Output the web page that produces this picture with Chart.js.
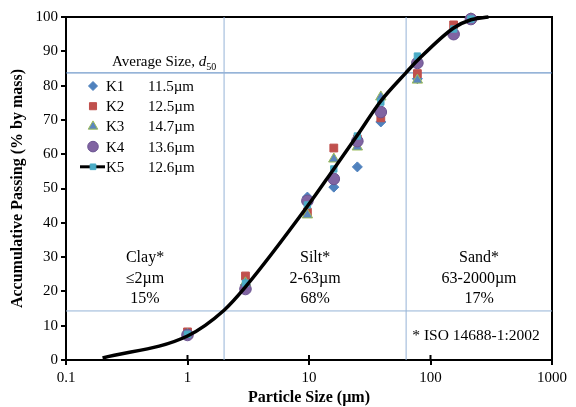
<!DOCTYPE html>
<html>
<head>
<meta charset="utf-8">
<script src="https://cdn.jsdelivr.net/npm/chart.js@4"></script>
<style>
  body { margin: 0; background: #fff; }
  #wrap { width: 576px; height: 407px; position: relative; }
</style>
</head>
<body>
<div id="wrap"><canvas id="psd"></canvas></div>
<script>
// Sieve sizes (µm) and accumulative passing (%) per sample
const sizes = [1, 3, 9.7, 16, 25, 39, 78, 155, 215];
const k1 = [7.5, 22, 47.5, 50.4, 56.3, 69.4, 82, 95, 99.5];
const k2 = [8.2, 24.5, 43.1, 61.8, 64.4, 70.6, 83.5, 97.7, 99.5];
const k3 = [7.5, 22.5, 42.3, 58.6, 62.1, 76.7, 81.6, 95.5, 99.5];
const k4 = [7.3, 20.7, 46.4, 52.8, 63.8, 72.3, 86.6, 95, 99.4];
const k5 = [7.5, 22.4, 45.2, 55.7, 65.3, 75.2, 88.6, 96.5, 99.4];

// smooth K5 curve
const curveSizes = [0.2, 1, 2, 3, 9.7, 16, 25, 39, 63, 78, 155, 215, 300];
const curveValues = [0.6, 7, 14.5, 21.3, 44.8, 55.7, 65.5, 75.5, 83.8, 87.3, 96.8, 99.2, 100];

const seriesNames = ['K1', 'K2', 'K3', 'K4', 'K5'];
const d50Labels = ['11.5µm', '12.5µm', '14.7µm', '13.6µm', '12.6µm'];

const xTicks = [0.1, 1, 10, 100, 1000];
const yTicks = [0, 10, 20, 30, 40, 50, 60, 70, 80, 90, 100];

// class boundaries (ISO 14688-1)
const clayLimit = 2;
const siltLimit = 63;
const clayPassing = 14.3;
const siltPassing = 83.7;

const regionLabels = [
  { x: Math.sqrt(0.1 * 2), lines: ['Clay*', '≤2µm', '15%'] },
  { x: Math.sqrt(2 * 63), lines: ['Silt*', '2-63µm', '68%'] },
  { x: Math.sqrt(63 * 1000), lines: ['Sand*', '63-2000µm', '17%'] }
];
const isoNote = '* ISO 14688-1:2002';

const SERIF = "'Liberation Serif', 'Times New Roman', serif";

const styles = [
  { pointStyle: 'rectRot', radius: 5, bg: '#4F81BD', border: '#4F81BD' },
  { pointStyle: 'rect', radius: 5.5, bg: '#C0504D', border: '#C0504D' },
  { pointStyle: 'triangle', radius: 6, bg: '#5B86BE', border: '#9BBB59' },
  { pointStyle: 'circle', radius: 5.8, bg: '#8064A2', border: '#6B5491' },
  { pointStyle: 'rect', radius: 4.5, bg: '#4BACC6', border: '#4BACC6' }
];

const toXY = (xs, ys) => xs.map((x, i) => ({ x, y: ys[i] }));

function markerSet(idx, values) {
  const s = styles[idx];
  return {
    type: 'scatter',
    label: seriesNames[idx],
    data: toXY(sizes, values),
    pointStyle: s.pointStyle,
    pointRadius: s.radius,
    pointBackgroundColor: s.bg,
    pointBorderColor: s.border,
    pointBorderWidth: 1,
    showLine: false,
    clip: false,
    order: 6 - idx
  };
}

function refLine(points, color) {
  return {
    type: 'line',
    data: points,
    borderColor: color,
    borderWidth: 1,
    pointRadius: 0,
    order: 20
  };
}

const datasets = [
  refLine([{ x: clayLimit, y: 0 }, { x: clayLimit, y: 100 }], '#95B3D7'),
  refLine([{ x: siltLimit, y: 0 }, { x: siltLimit, y: 100 }], '#95B3D7'),
  refLine([{ x: 0.1, y: clayPassing }, { x: 1000, y: clayPassing }], '#95B3D7'),
  refLine([{ x: 0.1, y: siltPassing }, { x: 1000, y: siltPassing }], '#4F81BD'),
  markerSet(0, k1),
  markerSet(1, k2),
  markerSet(2, k3),
  markerSet(3, k4),
  markerSet(4, k5),
  {
    type: 'line',
    label: 'K5 curve',
    data: toXY(curveSizes, curveValues),
    borderColor: '#000',
    borderWidth: 3.5,
    cubicInterpolationMode: 'monotone',
    pointRadius: 0,
    clip: false,
    order: 0
  }
];

// frame, legend box and class labels
const decorations = {
  id: 'decorations',
  beforeDatasetsDraw(chart) {
    const { ctx, chartArea: a } = chart;
    ctx.save();
    ctx.strokeStyle = '#000';
    ctx.lineWidth = 2;
    ctx.strokeRect(a.left, a.top, a.right - a.left, a.bottom - a.top);
    // x ticks cross the axis line
    chart.scales.x.ticks.forEach(t => {
      const px = chart.scales.x.getPixelForValue(t.value);
      ctx.beginPath();
      ctx.moveTo(px, a.bottom - 5);
      ctx.lineTo(px, a.bottom);
      ctx.stroke();
    });
    ctx.restore();
  },
  afterDatasetsDraw(chart) {
    const { ctx, scales } = chart;
    const xs = scales.x;
    ctx.save();
    ctx.fillStyle = '#000';
    ctx.textBaseline = 'middle';

    // class labels
    ctx.font = '16px ' + SERIF;
    ctx.textAlign = 'center';
    regionLabels.forEach(r => {
      const cx = xs.getPixelForValue(r.x);
      r.lines.forEach((t, i) => ctx.fillText(t, cx, 258 + i * 20.5));
    });
    ctx.font = '15.5px ' + SERIF;
    ctx.fillText(isoNote, xs.getPixelForValue(Math.sqrt(63 * 1000)) - 3, 336);

    // legend title
    ctx.textAlign = 'left';
    let tx = 112;
    const ty = 62;
    ctx.font = '15px ' + SERIF;
    ctx.fillText('Average Size, ', tx, ty);
    tx += ctx.measureText('Average Size, ').width;
    ctx.font = 'italic 15px ' + SERIF;
    ctx.fillText('d', tx, ty);
    tx += ctx.measureText('d').width;
    ctx.font = '10px ' + SERIF;
    ctx.fillText('50', tx, ty + 5);

    // legend rows
    ctx.font = '15px ' + SERIF;
    seriesNames.forEach((name, i) => {
      const ry = 86 + i * 20.2;
      const s = styles[i];
      if (i === 4) {
        ctx.strokeStyle = '#000';
        ctx.lineWidth = 3;
        ctx.beginPath();
        ctx.moveTo(80, ry);
        ctx.lineTo(105, ry);
        ctx.stroke();
      }
      ctx.fillStyle = s.bg;
      ctx.strokeStyle = s.border;
      ctx.lineWidth = 1;
      Chart.helpers.drawPoint(ctx, { pointStyle: s.pointStyle, radius: s.radius - 0.5, borderWidth: 1, rotation: 0 }, 93, ry);
      ctx.fillStyle = '#000';
      ctx.fillText(name, 106, ry + 1);
      ctx.fillText(d50Labels[i], 148, ry + 1);
    });
    ctx.restore();
  }
};

new Chart(document.getElementById('psd'), {
  data: { datasets },
  options: {
    responsive: true,
    maintainAspectRatio: false,
    animation: false,
    layout: { padding: { left: 0, right: 24, top: 17, bottom: 0 } },
    plugins: {
      legend: { display: false },
      tooltip: { enabled: false }
    },
    scales: {
      x: {
        type: 'logarithmic',
        min: 0.1,
        max: 1000,
        afterBuildTicks: s => { s.ticks = xTicks.map(v => ({ value: v })); },
        afterFit: s => { s.height = 47; },
        ticks: {
          color: '#000',
          font: { family: SERIF, size: 15 },
          padding: 4,
          maxRotation: 0,
          callback: v => String(v)
        },
        grid: { drawOnChartArea: false, drawTicks: true, tickLength: 5, color: '#000', lineWidth: 2 },
        border: { color: '#000', width: 2 },
        title: {
          display: true,
          text: 'Particle Size (µm)',
          color: '#000',
          font: { family: SERIF, size: 16, weight: 'bold' },
          padding: { top: 0, bottom: 0 }
        }
      },
      y: {
        min: 0,
        max: 100,
        afterBuildTicks: s => { s.ticks = yTicks.map(v => ({ value: v })); },
        afterFit: s => { s.width = 66; },
        ticks: {
          color: '#000',
          font: { family: SERIF, size: 15 },
          padding: 3
        },
        grid: { drawOnChartArea: false, drawTicks: true, tickLength: 5, color: '#000', lineWidth: 2 },
        border: { color: '#000', width: 2 },
        title: {
          display: true,
          text: 'Accumulative Passing (% by mass)',
          color: '#000',
          font: { family: SERIF, size: 16, weight: 'bold' },
          padding: { top: 8, bottom: 0 }
        }
      }
    }
  },
  plugins: [decorations]
});
</script>
</body>
</html>
